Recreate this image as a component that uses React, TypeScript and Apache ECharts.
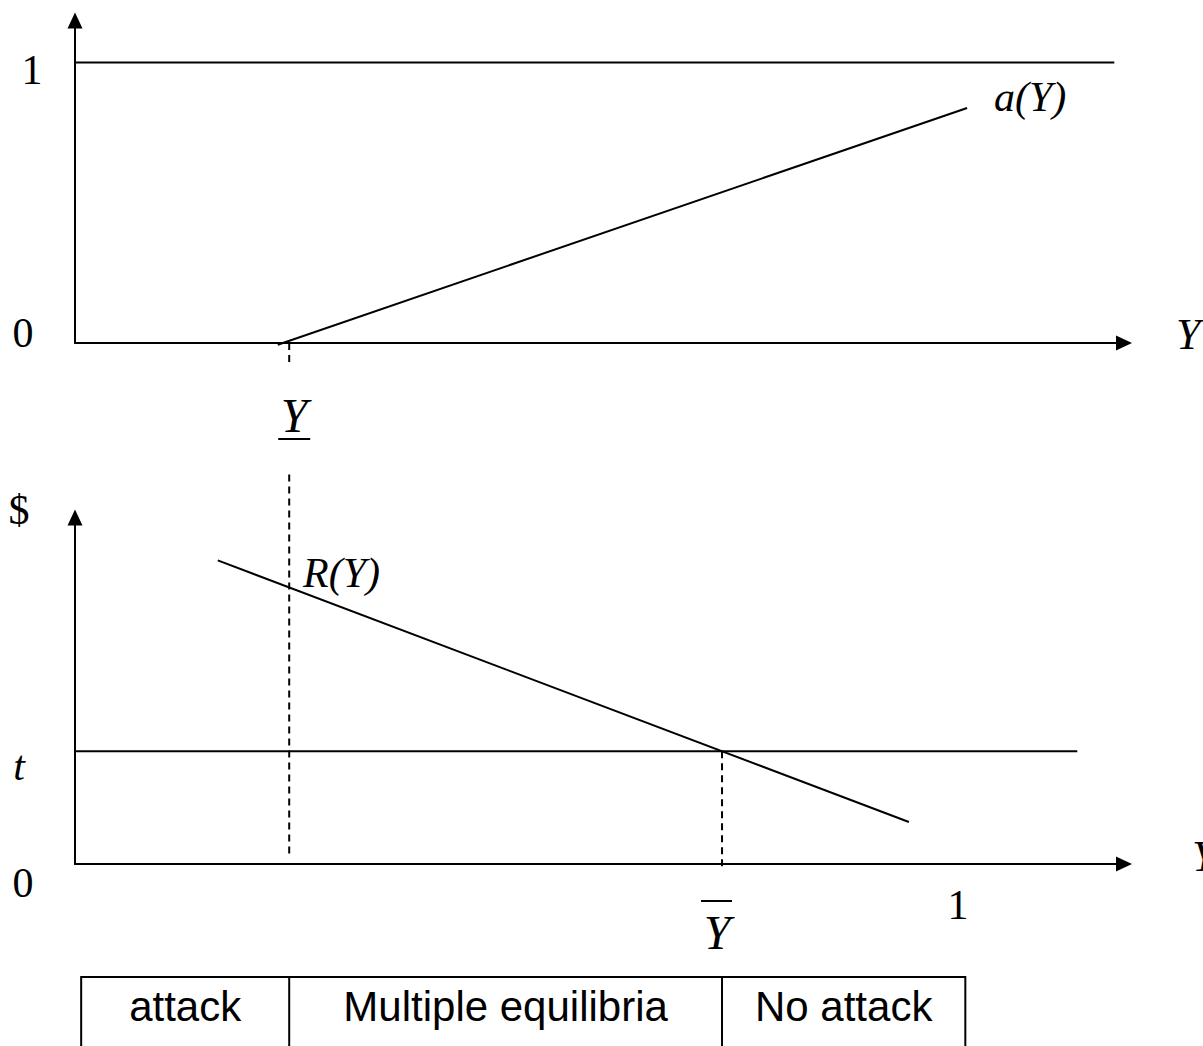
import { useEffect, useRef } from "react";
import * as echarts from "echarts";

// ---- axis ranges (data units) ----
const X_MAX = 1.19;
const TOP_Y_MAX = 1.15;
const BOTTOM_Y_MAX = 3.07;

// ---- key values ----
const Y_LOW = 0.243; // underlined Y
const Y_BAR = 0.734; // overlined Y
const T_LEVEL = 1;
const ONE_LEVEL = 1;

// ---- top panel lines ----
const ONE_LINE_X = [-0.003, 1.179];
const A_CURVE_X = [0.23, 1.012];
const A_CURVE_Y = [-0.006, 0.838];
const TOP_DASH_Y = [0, -0.08];

// ---- bottom panel lines ----
const R_CURVE_X = [0.162, 0.946];
const R_CURVE_Y = [2.69, 0.372];
const T_LINE_X = [-0.003, 1.137];
const LOW_DASH_Y = [3.45, 0.062];
const BAR_DASH_Y = [T_LEVEL, -0.053];

// ---- table ----
const TABLE_EDGES_X = [0.007, Y_LOW, Y_BAR, 1.01];
const TABLE_CELLS = ["attack", "Multiple equilibria", "No attack"];

// ---- labels ----
const TICK_LABELS_TOP = ["0", "1"];
const TICK_LABELS_BOTTOM = ["0", "t", "$"];

const SERIF = "'Liberation Serif', 'Times New Roman', serif";
const SANS = "'Liberation Sans', Arial, sans-serif";

const pairs = (xs: number[], ys: number[]) => xs.map((x, i) => [x, ys[i]]);

export default function App() {
  const ref = useRef<HTMLDivElement>(null);

  useEffect(() => {
    if (!ref.current) return;
    const chart = echarts.init(ref.current, undefined, { renderer: "svg" });

    const axisLine = {
      show: true,
      onZero: true,
      symbol: ["none", "triangle"],
      symbolSize: [15, 16],
      lineStyle: { color: "#000", width: 2 },
    };
    const baseAxis = {
      type: "value" as const,
      axisLine,
      axisTick: { show: false },
      axisLabel: { show: false },
      splitLine: { show: false },
    };
    const solid = { color: "#000", width: 2, type: "solid" as const };
    const dashed = { color: "#000", width: 2, type: [7, 5] as any };
    const lineSeries = (
      name: string,
      data: number[][],
      idx: number,
      style: any
    ) => ({
      type: "line" as const,
      name,
      data,
      xAxisIndex: idx,
      yAxisIndex: idx,
      showSymbol: false,
      symbol: "none",
      clip: false,
      silent: true,
      lineStyle: style,
      z: 3,
    });

    chart.setOption({
      animation: false,
      backgroundColor: "#fff",
      grid: [
        { left: 75, right: 79, top: 20.5, height: 322.5 },
        { left: 75, right: 79, top: 517.5, height: 346.5 },
      ],
      xAxis: [
        { ...baseAxis, gridIndex: 0, min: 0, max: X_MAX },
        { ...baseAxis, gridIndex: 1, min: 0, max: X_MAX },
      ],
      yAxis: [
        { ...baseAxis, gridIndex: 0, min: 0, max: TOP_Y_MAX },
        { ...baseAxis, gridIndex: 1, min: 0, max: BOTTOM_Y_MAX },
      ],
      series: [
        lineSeries("one", pairs(ONE_LINE_X, [ONE_LEVEL, ONE_LEVEL]), 0, solid),
        lineSeries("a(Y)", pairs(A_CURVE_X, A_CURVE_Y), 0, solid),
        lineSeries("dashLowTop", pairs([Y_LOW, Y_LOW], TOP_DASH_Y), 0, dashed),
        lineSeries("t", pairs(T_LINE_X, [T_LEVEL, T_LEVEL]), 1, solid),
        lineSeries("R(Y)", pairs(R_CURVE_X, R_CURVE_Y), 1, solid),
        lineSeries("dashLowBottom", pairs([Y_LOW, Y_LOW], LOW_DASH_Y), 1, dashed),
        lineSeries("dashBar", pairs([Y_BAR, Y_BAR], BAR_DASH_Y), 1, dashed),
      ],
    });

    const px = (v: number) => chart.convertToPixel({ xAxisIndex: 1 }, v) as number;
    const edges = TABLE_EDGES_X.map(px);
    const tableTop = 977;
    const tableBottom = 1080;

    const txt = (
      text: string,
      x: number,
      y: number,
      opts: { size?: number; italic?: boolean; align?: string; family?: string } = {}
    ) => ({
      type: "text",
      x,
      y,
      silent: true,
      z: 10,
      style: {
        text,
        fontSize: opts.size ?? 42,
        fontFamily: opts.family ?? SERIF,
        fontStyle: opts.italic ? "italic" : "normal",
        fill: "#000",
        align: opts.align ?? "center",
        verticalAlign: "middle",
      },
    });
    const ln = (x1: number, y1: number, x2: number, y2: number, w = 2) => ({
      type: "line",
      silent: true,
      z: 10,
      shape: { x1, y1, x2, y2 },
      style: { stroke: "#000", lineWidth: w },
    });

    const yLowPx = px(Y_LOW);
    const yBarPx = px(Y_BAR);

    const graphic: any[] = [
      // top panel tick labels
      txt(TICK_LABELS_TOP[1], 32, 70),
      txt(TICK_LABELS_TOP[0], 23, 333),
      txt("Y", 1176, 334, { italic: true, align: "left", size: 44 }),
      txt("a(Y)", 994, 97, { italic: true, align: "left" }),
      // underlined Y
      txt("Y", yLowPx + 5, 415, { italic: true, size: 48 }),
      ln(yLowPx - 11, 439, yLowPx + 21, 439),
      // bottom panel
      txt(TICK_LABELS_BOTTOM[2], 19, 510),
      txt("R(Y)", 303, 573, { italic: true, align: "left" }),
      txt(TICK_LABELS_BOTTOM[1], 19, 766, { italic: true }),
      txt(TICK_LABELS_BOTTOM[0], 23, 883),
      txt("1", 958, 905),
      txt("Y", 1192, 856, { italic: true, align: "left", size: 44 }),
      // overlined Y
      txt("Y", yBarPx - 5, 932, { italic: true, size: 48 }),
      ln(yBarPx - 21, 901, yBarPx + 10, 901),
      // table
      {
        type: "rect",
        silent: true,
        z: 10,
        shape: {
          x: edges[0],
          y: tableTop,
          width: edges[3] - edges[0],
          height: tableBottom - tableTop,
        },
        style: { fill: "none", stroke: "#000", lineWidth: 2 },
      },
      ln(edges[1], tableTop, edges[1], tableBottom),
      ln(edges[2], tableTop, edges[2], tableBottom),
      ...TABLE_CELLS.map((c, i) =>
        txt(c, (edges[i] + edges[i + 1]) / 2, 1006, { family: SANS })
      ),
    ];

    chart.setOption({ graphic });

    return () => chart.dispose();
  }, []);

  return (
    <div
      ref={ref}
      style={{ position: "absolute", left: 0, top: 0, width: 1203, height: 1046 }}
    />
  );
}
